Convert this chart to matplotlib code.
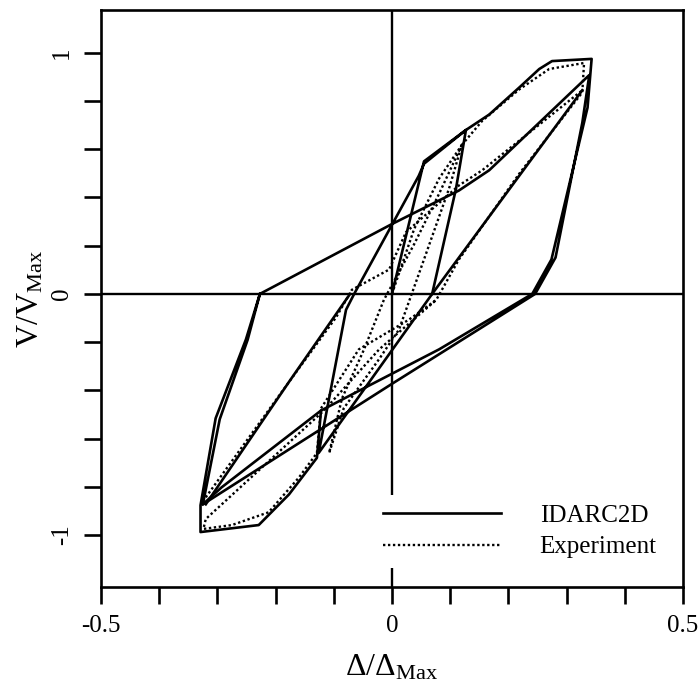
import numpy as np
import matplotlib.pyplot as plt
from matplotlib.lines import Line2D
from matplotlib.ticker import FixedLocator, MultipleLocator

plt.rcParams['font.family'] = ['Liberation Serif', 'DejaVu Serif']
plt.rcParams['mathtext.fontset'] = 'custom'
plt.rcParams['mathtext.rm'] = 'Liberation Serif'
plt.rcParams['mathtext.it'] = 'Liberation Serif:italic'

# ---- IDARC2D analytical response (drift ratio, shear ratio) ----
idarc_main_x = [0.0, 0.055, 0.127, 0.110, 0.069, -0.126, -0.079, -0.065, 0.046, 0.055,
                0.127, 0.167, 0.219, 0.253, 0.275, 0.343, 0.336, 0.274, 0.241, 0.081,
                -0.040, -0.122, -0.129, -0.177, -0.229, -0.329, -0.329, -0.303, -0.251,
                -0.227, 0.0, 0.115, 0.167, 0.339, 0.327, 0.281, 0.246, 0.0, -0.325,
                -0.296, -0.248, -0.227]
idarc_main_y = [0.0, 0.55, 0.68, 0.437, 0.0, -0.660, -0.066, 0.0, 0.49, 0.54,
                0.68, 0.744, 0.857, 0.933, 0.966, 0.975, 0.773, 0.143, 0.0, -0.230,
                -0.381, -0.484, -0.680, -0.832, -0.959, -0.988, -0.877, -0.516, -0.189,
                0.0, 0.29, 0.429, 0.513, 0.908, 0.710, 0.151, 0.0, -0.373, -0.873,
                -0.520, -0.190, 0.0]
idarc_reload_x = [-0.320, -0.177, -0.072]
idarc_reload_y = [-0.873, -0.365, 0.0]
idarc_branch_x = [-0.325, -0.293, -0.122]
idarc_branch_y = [-0.873, -0.803, -0.484]
idarc_peak_x = [0.069, 0.327]
idarc_peak_y = [0.0, 0.845]

# ---- Experimental response ----
exp_small_x = [0.0, 0.038, 0.081, 0.120, 0.098, 0.055, 0.012, -0.022, -0.083, -0.108,
               -0.086, -0.048, -0.014, 0.038, 0.081, 0.120]
exp_small_y = [0.0, 0.269, 0.479, 0.618, 0.437, 0.143, -0.148, -0.270, -0.475, -0.660,
               -0.434, -0.230, -0.025, 0.206, 0.416, 0.618]
exp_large_x = [0.120, 0.155, 0.219, 0.270, 0.330, 0.327, 0.219, 0.115, 0.076, 0.029,
               -0.057, -0.122, -0.129, -0.160, -0.212, -0.275, -0.324, -0.320, -0.117,
               -0.022, 0.076]
exp_large_y = [0.618, 0.718, 0.849, 0.933, 0.958, 0.836, 0.500, 0.143, -0.025, -0.107,
               -0.230, -0.475, -0.660, -0.762, -0.906, -0.959, -0.975, -0.934, -0.484,
               -0.230, -0.025]
exp_reload_x = [-0.320, -0.194, -0.096, -0.069, -0.005, 0.024, 0.115, 0.155, 0.327]
exp_reload_y = [-0.844, -0.422, -0.097, 0.017, 0.101, 0.256, 0.450, 0.513, 0.845]

fig = plt.figure(figsize=(6.98, 6.88), dpi=100)
ax = fig.add_axes([0.1447, 0.1468, 0.8338, 0.8387])

solid = dict(color='black', lw=1.9, solid_joinstyle='round')
dotted = dict(color='black', lw=1.7, linestyle=(0, (1, 1.1)))

ax.axhline(0, color='black', lw=1.7, zorder=1)
ax.axvline(0, color='black', lw=1.7, zorder=1)

for xs, ys in [(idarc_main_x, idarc_main_y), (idarc_reload_x, idarc_reload_y),
               (idarc_branch_x, idarc_branch_y), (idarc_peak_x, idarc_peak_y)]:
    ax.plot(xs, ys, **solid)
for xs, ys in [(exp_small_x, exp_small_y), (exp_large_x, exp_large_y),
               (exp_reload_x, exp_reload_y)]:
    ax.plot(xs, ys, **dotted)

ax.set_xlim(-0.5, 0.5)
ax.set_ylim(-1.216, 1.178)
ax.set_xticks([-0.5, 0, 0.5])
ax.set_xticklabels(['-0.5', '0', '0.5'])
ax.set_yticks([-1, 0, 1])
ax.set_yticklabels(['-1', '0', '1'])
ax.xaxis.set_minor_locator(MultipleLocator(0.1))
ax.yaxis.set_minor_locator(FixedLocator([-0.8, -0.6, -0.4, -0.2, 0.2, 0.4, 0.6, 0.8]))
ax.tick_params(which='both', direction='out', length=12, width=1.9)
ax.tick_params(axis='both', labelsize=18, pad=8)
ax.tick_params(axis='y', labelrotation=90)
for lab in ax.get_yticklabels():
    lab.set_va('center')
for sp in ax.spines.values():
    sp.set_linewidth(1.9)

ax.set_xlabel(r'$\Delta/\Delta_{\rm Max}$', fontsize=23, labelpad=12)
ax.set_ylabel(r'V/V$_{\rm Max}$', fontsize=23, labelpad=4)

handles = [Line2D([], [], **solid), Line2D([], [], **dotted)]
leg = ax.legend(handles, ['IDARC2D', 'Experiment'], loc='upper left',
                bbox_to_anchor=(0.468, 0.16), fontsize=18, frameon=True,
                handlelength=4.7, handletextpad=1.55, labelspacing=0.35,
                borderpad=0.4, borderaxespad=0.0)
leg.get_frame().set_facecolor('white')
leg.get_frame().set_edgecolor('none')
leg.get_frame().set_alpha(1.0)

fig.savefig('out.png', dpi=100)
